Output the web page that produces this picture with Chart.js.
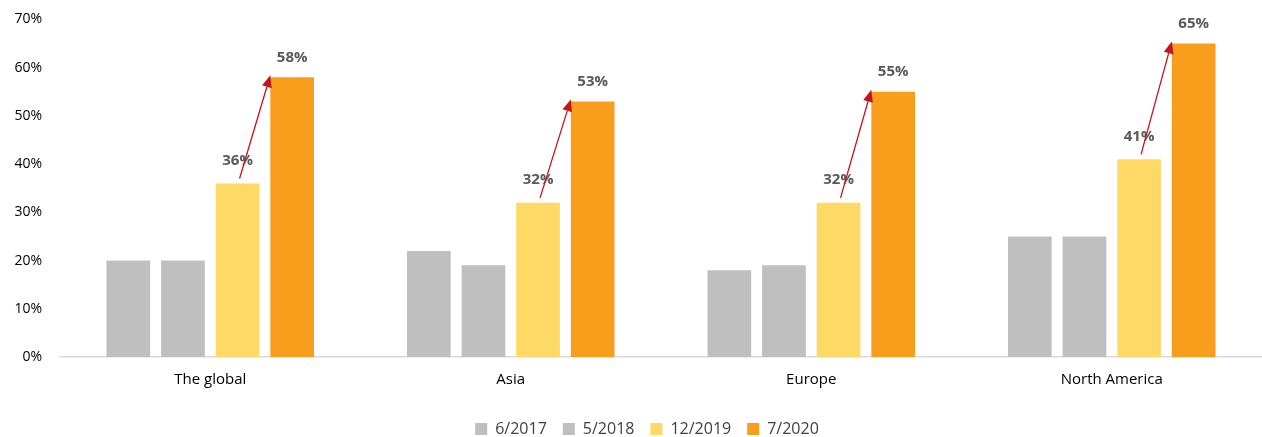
<!DOCTYPE html>
<html>
<head>
<meta charset="utf-8">
<script src="https://cdn.jsdelivr.net/npm/chart.js@4"></script>
<style>
  html, body { margin: 0; padding: 0; background: #fff; overflow: hidden; }
  #wrap { width: 1262px; height: 454px; margin-top: -7px; }
</style>
</head>
<body>
<div id="wrap"><canvas id="chart"></canvas></div>
<script>
const regions = ["The global", "Asia", "Europe", "North America"]
const periods = ["6/2017", "5/2018", "12/2019", "7/2020"]
const values2017 = [20, 22, 18, 25]
const values2018 = [20, 19, 19, 25]
const values2019 = [36, 32, 32, 41]
const values2020 = [58, 53, 55, 65]
const yTicks = [0, 10, 20, 30, 40, 50, 60, 70]

const colors = ["#bfbfbf", "#bfbfbf", "#ffd966", "#f99d1c"]
const font = "'Open Sans', 'Liberation Sans', sans-serif"

// bold value labels on the last two series
const valueLabels = {
    id: "valueLabels",
    afterDatasetsDraw(chart) {
        const ctx = chart.ctx
        ctx.save()
        ctx.font = `bold 15px ${font}`
        ctx.fillStyle = "#595959"
        ctx.textAlign = "center"
        ctx.textBaseline = "middle"
        ;[2, 3].forEach(di => {
            const meta = chart.getDatasetMeta(di)
            meta.data.forEach((bar, i) => {
                const v = chart.data.datasets[di].data[i]
                const gap = di === 3 ? 20 : 23
                ctx.fillText(`${v}%`, bar.x, bar.y - gap)
            })
        })
        ctx.restore()
    }
}

// red arrows from 12/2019 top to 7/2020 top
const growthArrows = {
    id: "growthArrows",
    afterDatasetsDraw(chart) {
        const ctx = chart.ctx
        const y = chart.scales.y
        const from = chart.getDatasetMeta(2).data
        const to = chart.getDatasetMeta(3).data
        ctx.save()
        ctx.strokeStyle = "#c0161c"
        ctx.fillStyle = "#c0161c"
        ctx.lineWidth = 1.3
        from.forEach((a, i) => {
            const b = to[i]
            const x1 = a.x + 2, y1 = y.getPixelForValue(values2019[i] + 1)
            const x2 = b.x - b.width / 2, y2 = b.y - 2
            const ang = Math.atan2(y2 - y1, x2 - x1)
            const hx = x2 - 12 * Math.cos(ang), hy = y2 - 12 * Math.sin(ang)
            ctx.beginPath()
            ctx.moveTo(x1, y1)
            ctx.lineTo(hx, hy)
            ctx.stroke()
            ctx.beginPath()
            ctx.moveTo(x2, y2)
            ctx.lineTo(hx + 5 * Math.sin(ang), hy - 5 * Math.cos(ang))
            ctx.lineTo(hx - 5 * Math.sin(ang), hy + 5 * Math.cos(ang))
            ctx.closePath()
            ctx.fill()
        })
        ctx.restore()
    }
}

// legend in the reference sits a bit right of centre
const legendShift = {
    id: "legendShift",
    afterLayout(chart) {
        chart.legend.left += 16
        chart.legend.right += 16
    }
}

const seriesData = [values2017, values2018, values2019, values2020]

new Chart(document.getElementById("chart"), {
    type: "bar",
    data: {
        labels: regions,
        datasets: periods.map((p, i) => ({
            label: p,
            data: seriesData[i],
            backgroundColor: colors[i],
            categoryPercentage: 0.727,
            barPercentage: 0.8,
        }))
    },
    options: {
        responsive: true,
        maintainAspectRatio: false,
        animation: false,
        layout: { autoPadding: false, padding: { top: 20, right: 0, left: 0, bottom: 0 } },
        scales: {
            x: {
                grid: { display: false, drawTicks: false },
                border: { color: "#d9d9d9", width: 1.5 },
                ticks: { color: "#000", font: { family: font, size: 15 }, padding: 14 },
                afterFit(axis) { axis.height = 48 },
            },
            y: {
                min: 0, max: 70,
                afterBuildTicks(axis) { axis.ticks = yTicks.map(v => ({ value: v })) },
                afterFit(axis) { axis.width = 60 },
                grid: { display: false, drawTicks: false },
                border: { display: false },
                ticks: {
                    color: "#000", padding: 18,
                    font: { family: font, size: 14 },
                    callback: v => `${v}%`,
                },
            }
        },
        plugins: {
            legend: {
                position: "bottom",
                labels: {
                    boxWidth: 12, boxHeight: 12, color: "#404040",
                    font: { family: font, size: 16 }, padding: 16,
                },
            },
            tooltip: { enabled: false },
        }
    },
    plugins: [valueLabels, growthArrows, legendShift]
})
</script>
</body>
</html>
